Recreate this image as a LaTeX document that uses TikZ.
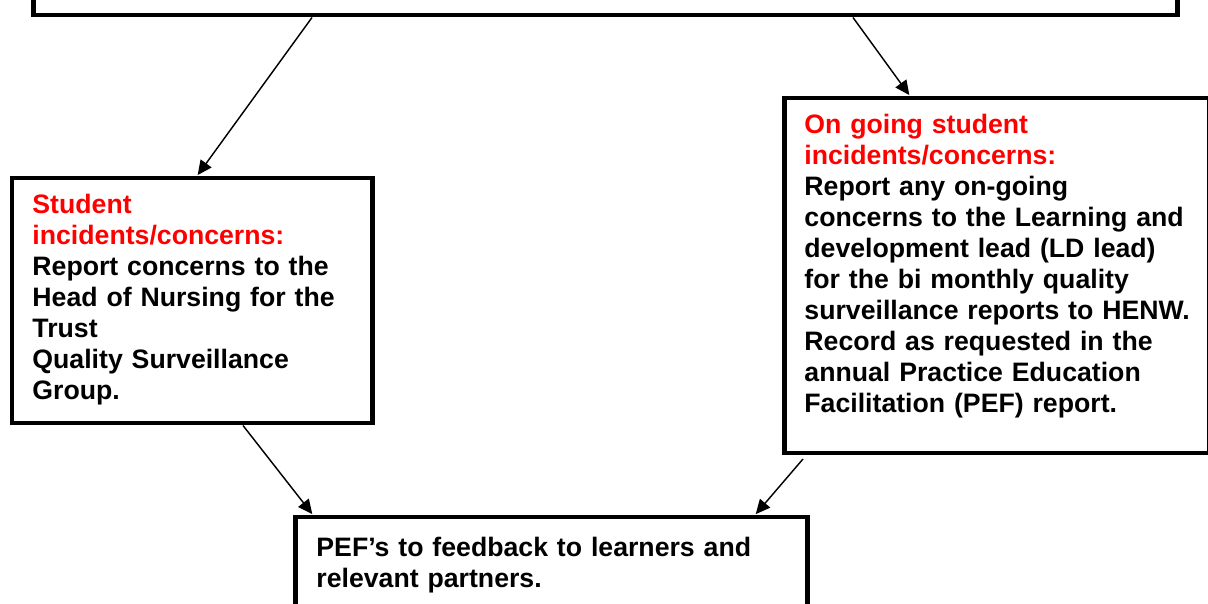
\documentclass[tikz,border=0pt]{standalone}
\usepackage{fontspec}
\setmainfont{Liberation Sans}
\usetikzlibrary{arrows.meta}
\newlength{\pxu}
\setlength{\pxu}{0.45pt}
\colorlet{concern}{red}
\tikzset{
  box/.style={draw, line width=4.5\pxu, inner sep=0pt, anchor=north west},
  boxtext/.style={anchor=north west, inner sep=0pt, align=left,
    font=\bfseries\fontsize{12}{13.95}\selectfont},
  arr/.style={-{Triangle[length=6.5pt,width=6pt]}, line width=0.65pt, shorten >=0.5pt},
}

\begin{document}
\begin{tikzpicture}[x=\pxu, y=-\pxu]
  \useasboundingbox (0,0) rectangle (1208,604);
  \clip (0,0) rectangle (1208,604);

  \node[box, minimum width=1144\pxu, minimum height=80\pxu] (top) at (31,-67) {};
  \node[box, minimum width=360\pxu, minimum height=245\pxu] (student) at (10,176) {};
  \node[box, minimum width=425\pxu, minimum height=355\pxu] (ongoing) at (782,96) {};
  \node[box, minimum width=512\pxu, minimum height=140\pxu] (feedback) at (293,515) {};

  \node[boxtext, text width=330\pxu] (studenttxt) at ([shift={(22,18)}]student.north west)
    {\textcolor{concern}{Student}\\
     \textcolor{concern}{incidents/concerns:}\\
     Report concerns to the\\
     Head of Nursing for the\\
     Trust\\
     Quality Surveillance\\
     Group.};
  \node[boxtext, text width=400\pxu] (ongoingtxt) at ([shift={(22,18)}]ongoing.north west)
    {\textcolor{concern}{On going student}\\
     \textcolor{concern}{incidents/concerns:}\\
     Report any on-going\\
     concerns to the Learning and\\
     development lead (LD lead)\\
     for the bi monthly quality\\
     surveillance reports to HENW.\\
     Record as requested in the\\
     annual Practice Education\\
     Facilitation (PEF) report.};
  \node[boxtext, text width=470\pxu] (feedbacktxt) at ([shift={(23,22)}]feedback.north west)
    {PEF’s to feedback to learners and\\
     relevant partners.};

  \coordinate (ongoingtail) at (803,459);
  \draw[arr] (top.south -| 312,0) -- (student.north -| 197,0);
  \draw[arr] (top.south -| 853,0) -- (ongoing.north -| 910,0);
  \draw[arr] (student.south -| 243,0) -- (feedback.north -| 313,0);
  \draw[arr] (ongoingtail) -- (feedback.north -| 755,0);
\end{tikzpicture}
\end{document}
